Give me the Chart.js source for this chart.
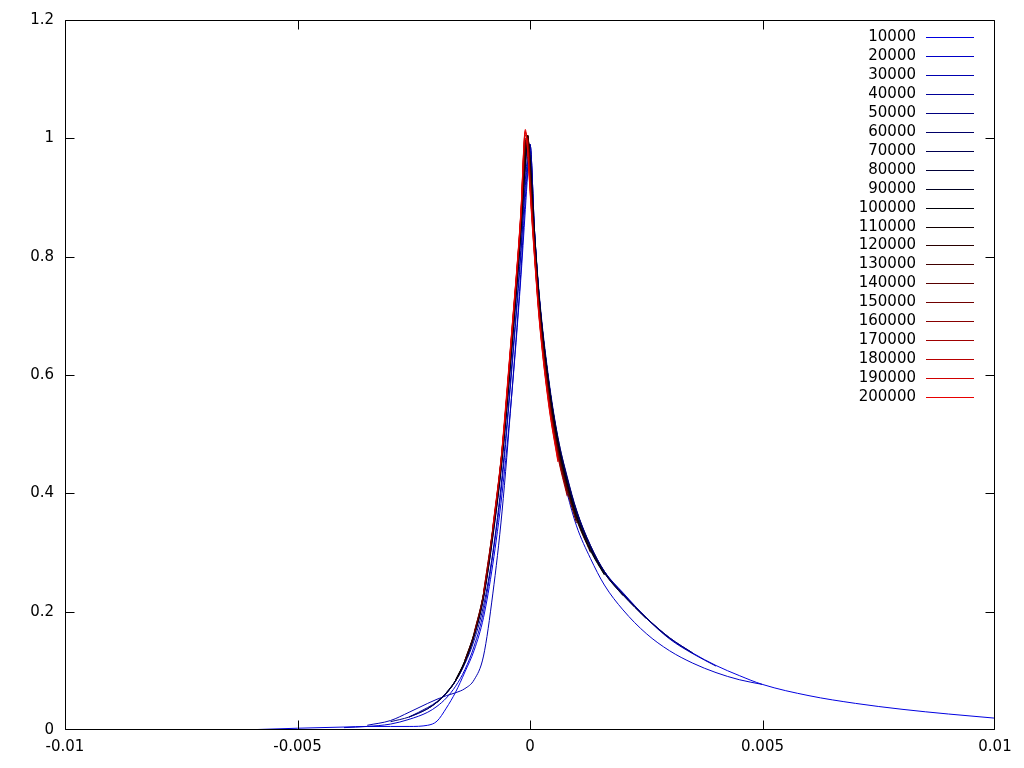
<!DOCTYPE html>
<html>
<head>
<meta charset="utf-8">
<script src="https://cdn.jsdelivr.net/npm/chart.js@4/dist/chart.umd.min.js"></script>
<style>
  html, body { margin: 0; padding: 0; background: #fff; }
  #wrap { width: 1024px; height: 768px; }
</style>
</head>
<body>
<div id="wrap"><canvas id="chart"></canvas></div>
<script>
// x positions shared by all series
var xGrid = [-0.0062, -0.005, -0.004, -0.0035, -0.003, -0.0026, -0.0022, -0.002, -0.0018, -0.0016,
             -0.0014, -0.0012, -0.001, -0.0008, -0.0006, -0.0004, -0.0002, -0.0001, -0.00005, 0,
             0.0001, 0.0002, 0.0004, 0.0006, 0.0008, 0.001, 0.0013, 0.0016, 0.002, 0.0025,
             0.003, 0.0035, 0.004, 0.0045, 0.005, 0.006, 0.007, 0.008, 0.009, 0.01];

var seriesNames = ['10000', '20000', '30000', '40000', '50000', '60000', '70000', '80000', '90000', '100000',
                   '110000', '120000', '130000', '140000', '150000', '160000', '170000', '180000', '190000', '200000'];

var y10000 = [0, 0.003, 0.005, 0.006, 0.006, 0.006, 0.008, 0.015, 0.037, 0.064,
              0.098, 0.135, 0.19, 0.28, 0.4, 0.56, 0.76, 0.88, 0.94, 0.99,
              0.84, 0.73, 0.59, 0.49, 0.42, 0.37, 0.31, 0.268, 0.232, 0.19,
              0.155, 0.13, 0.109, 0.092, 0.077, 0.058, 0.045, 0.035, 0.027, 0.02];
var y20000 = [null, null, 0.004, 0.006, 0.01, 0.018, 0.03, 0.04, 0.054, 0.074,
              0.102, 0.142, 0.2, 0.295, 0.42, 0.6, 0.8, 0.92, 0.96, 0.98,
              0.82, 0.71, 0.57, 0.47, 0.40, 0.345, 0.29, 0.245, 0.203, 0.163,
              0.134, 0.113, 0.097, 0.085, 0.077];
var y30000 = [null, null, null, 0.008, 0.016, 0.03, 0.045, 0.052, 0.058, 0.063,
              0.07, 0.085, 0.125, 0.23, 0.37, 0.56, 0.77, 0.9, 0.95, 0.99,
              0.84, 0.73, 0.59, 0.49, 0.42, 0.368, 0.31, 0.266, 0.23, 0.189,
              0.154, 0.129, 0.108];
var y40000 = [null, null, null, null, null, 0.022, 0.038, 0.048, 0.063, 0.083,
              0.112, 0.152, 0.21, 0.3, 0.43, 0.61, 0.81, 0.93, 0.97, 0.99,
              0.84, 0.73, 0.59, 0.49, 0.425, 0.37, 0.312, 0.268, 0.231, 0.19,
              0.156, 0.13];
var y50000 = [null, null, null, null, 0.014, 0.022, 0.036, 0.047, 0.062, 0.083,
              0.114, 0.158, 0.222, 0.325, 0.455, 0.635, 0.835, 0.95, 0.99, 0.97,
              0.84, 0.735, 0.595, 0.495, 0.428, 0.372, 0.312, 0.268, 0.23, 0.19,
              0.156, 0.13];
var y60000 = [null, null, null, null, null, 0.022, 0.036, 0.047, 0.062, 0.083,
              0.115, 0.16, 0.224, 0.328, 0.458, 0.638, 0.838, 0.955, 0.995, 0.97,
              0.835, 0.73, 0.59, 0.494, 0.426, 0.37, 0.31, 0.267, 0.229, 0.189,
              0.155];
var y70000 = [null, null, null, null, null, null, 0.036, 0.047, 0.062, 0.083,
              0.115, 0.16, 0.225, 0.33, 0.46, 0.64, 0.84, 0.96, 1.0, 0.965,
              0.835, 0.728, 0.588, 0.49, 0.422, 0.367, 0.309, 0.266, 0.228, 0.188];
var y80000 = [null, null, null, null, null, null, null, 0.047, 0.062, 0.084,
              0.116, 0.161, 0.226, 0.332, 0.462, 0.642, 0.842, 0.96, 1.0, 0.965,
              0.83, 0.725, 0.585, 0.487, 0.418, 0.364, 0.307, 0.265, 0.227];
var y90000 = [null, null, null, null, null, null, null, null, 0.063, 0.084,
              0.116, 0.162, 0.227, 0.333, 0.464, 0.645, 0.845, 0.965, 1.0, 0.96,
              0.83, 0.722, 0.582, 0.484, 0.416, 0.362, 0.305, 0.263];
var y100000 = [null, null, null, null, null, null, null, null, null, 0.084,
               0.117, 0.162, 0.228, 0.334, 0.466, 0.648, 0.848, 0.97, 1.005, 0.96,
               0.825, 0.72, 0.58, 0.482, 0.414, 0.36, 0.303, 0.262];
var y110000 = [null, null, null, null, null, null, null, null, null, 0.085,
               0.117, 0.163, 0.228, 0.335, 0.467, 0.65, 0.85, 0.975, 1.005, 0.955,
               0.822, 0.717, 0.577, 0.48, 0.412, 0.358, 0.302];
var y120000 = [null, null, null, null, null, null, null, null, null, null,
               0.118, 0.163, 0.229, 0.336, 0.468, 0.652, 0.852, 0.98, 1.005, 0.95,
               0.82, 0.715, 0.574, 0.477, 0.41, 0.356, 0.3];
var y130000 = [null, null, null, null, null, null, null, null, null, null,
               0.118, 0.164, 0.23, 0.337, 0.47, 0.654, 0.855, 0.985, 1.005, 0.945,
               0.815, 0.712, 0.571, 0.474, 0.407, 0.353];
var y140000 = [null, null, null, null, null, null, null, null, null, null,
               null, 0.164, 0.23, 0.338, 0.471, 0.656, 0.858, 0.99, 1.0, 0.94,
               0.812, 0.709, 0.568, 0.471, 0.404, 0.35];
var y150000 = [null, null, null, null, null, null, null, null, null, null,
               null, 0.165, 0.231, 0.339, 0.472, 0.658, 0.86, 0.995, 1.0, 0.935,
               0.81, 0.706, 0.565, 0.468, 0.401];
var y160000 = [null, null, null, null, null, null, null, null, null, null,
               null, null, 0.232, 0.34, 0.473, 0.66, 0.863, 1.0, 0.995, 0.93,
               0.806, 0.703, 0.562, 0.465, 0.398];
var y170000 = [null, null, null, null, null, null, null, null, null, null,
               null, null, 0.232, 0.341, 0.474, 0.662, 0.865, 1.005, 0.99, 0.925,
               0.803, 0.7, 0.559, 0.462, 0.395];
var y180000 = [null, null, null, null, null, null, null, null, null, null,
               null, null, null, 0.342, 0.475, 0.664, 0.868, 1.01, 0.985, 0.92,
               0.8, 0.697, 0.556, 0.459];
var y190000 = [null, null, null, null, null, null, null, null, null, null,
               null, null, null, 0.343, 0.476, 0.666, 0.87, 1.012, 0.98, 0.915,
               0.797, 0.694, 0.553, 0.456];
var y200000 = [null, null, null, null, null, null, null, null, null, null,
               null, null, null, null, 0.477, 0.668, 0.872, 1.015, 0.975, 0.91,
               0.794, 0.691, 0.55, 0.453];

var seriesY = [y10000, y20000, y30000, y40000, y50000, y60000, y70000, y80000, y90000, y100000,
               y110000, y120000, y130000, y140000, y150000, y160000, y170000, y180000, y190000, y200000];

// blue -> black -> red, like the gnuplot palette
var lineColors = ['#0000e0', '#0000c8', '#0000b0', '#000098', '#000080', '#000068', '#000050', '#000038', '#000020', '#000008',
                  '#100000', '#280000', '#400000', '#580000', '#700000', '#880000', '#a00000', '#b80000', '#d00000', '#e80000'];

var FONT = { family: 'DejaVu Sans', size: 15 };

var datasets = seriesNames.map(function (name, i) {
    var pts = [];
    seriesY[i].forEach(function (y, k) {
        if (y !== null && y !== undefined) pts.push({ x: xGrid[k], y: y });
    });
    return {
        label: name,
        data: pts,
        borderColor: lineColors[i],
        borderWidth: 1,
        pointRadius: 0,
        fill: false,
        cubicInterpolationMode: 'monotone',
        order: seriesNames.length - 1 - i
    };
});

// frame with inward ticks on all four sides
var framePlugin = {
    id: 'frame',
    afterDraw: function (chart) {
        var ctx = chart.ctx, a = chart.chartArea;
        var xs = chart.scales.x, ys = chart.scales.y;
        var L = Math.round(a.left) + 0.5, R = Math.round(a.right) - 0.5;
        var T = Math.round(a.top) + 0.5, B = Math.round(a.bottom) - 0.5;
        ctx.save();
        ctx.strokeStyle = '#000';
        ctx.lineWidth = 1;
        ctx.beginPath();
        ctx.rect(L, T, R - L, B - T);
        xs.ticks.forEach(function (t) {
            var px = Math.round(xs.getPixelForValue(t.value)) + 0.5;
            px = Math.min(Math.max(px, L), R);
            ctx.moveTo(px, B); ctx.lineTo(px, B - 9);
            ctx.moveTo(px, T); ctx.lineTo(px, T + 9);
        });
        ys.ticks.forEach(function (t) {
            var py = Math.round(ys.getPixelForValue(t.value)) + 0.5;
            py = Math.min(Math.max(py, T), B);
            ctx.moveTo(L, py); ctx.lineTo(L + 9, py);
            ctx.moveTo(R, py); ctx.lineTo(R - 9, py);
        });
        ctx.stroke();
        ctx.restore();
    }
};

// key in the top right corner, text then line sample
var keyPlugin = {
    id: 'key',
    afterDraw: function (chart) {
        var ctx = chart.ctx;
        ctx.save();
        ctx.font = FONT.size + 'px "' + FONT.family + '"';
        ctx.textAlign = 'right';
        ctx.textBaseline = 'middle';
        chart.data.datasets.forEach(function (ds, i) {
            var y = Math.round(37 + i * 18.95) + 0.5;
            ctx.fillStyle = '#000';
            ctx.fillText(ds.label, 916, y);
            ctx.strokeStyle = ds.borderColor;
            ctx.lineWidth = 1;
            ctx.beginPath();
            ctx.moveTo(926, y);
            ctx.lineTo(974, y);
            ctx.stroke();
        });
        ctx.restore();
    }
};

function trimNum(v) {
    return String(parseFloat(Number(v).toFixed(4)));
}

new Chart(document.getElementById('chart'), {
    type: 'line',
    data: { datasets: datasets },
    options: {
        responsive: true,
        maintainAspectRatio: false,
        animation: false,
        layout: { padding: { top: 20, right: 29, left: 0, bottom: 0 } },
        plugins: {
            legend: { display: false },
            tooltip: { enabled: false }
        },
        scales: {
            x: {
                type: 'linear',
                min: -0.01,
                max: 0.01,
                grid: { display: false, drawTicks: false },
                border: { display: false },
                ticks: {
                    stepSize: 0.005,
                    autoSkip: false,
                    maxRotation: 0,
                    padding: 8,
                    color: '#000',
                    font: FONT,
                    callback: trimNum
                },
                afterFit: function (s) { s.height = 38; }
            },
            y: {
                type: 'linear',
                min: 0,
                max: 1.2,
                grid: { display: false, drawTicks: false },
                border: { display: false },
                ticks: {
                    stepSize: 0.2,
                    padding: 11,
                    color: '#000',
                    font: FONT,
                    callback: trimNum
                },
                afterFit: function (s) { s.width = 65; }
            }
        }
    },
    plugins: [framePlugin, keyPlugin]
});
</script>
</body>
</html>
